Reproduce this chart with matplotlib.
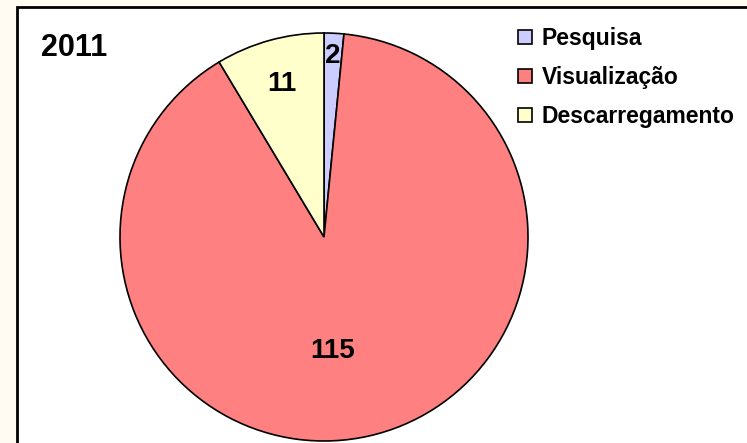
import matplotlib
matplotlib.use("Agg")
import matplotlib.pyplot as plt
from matplotlib.patches import Patch, Rectangle
import numpy as np

plt.rcParams['font.family'] = ['Liberation Sans', 'DejaVu Sans']
plt.rcParams['font.weight'] = 'bold'

year = "2011"
categories = ["Pesquisa", "Visualização", "Descarregamento"]
values = [2, 115, 11]
colors = ["#CCCCFF", "#FF8080", "#FFFFCC"]
# label placement inside each slice: radial distance and angle shift (deg)
label_dist = [0.89, 0.56, 0.78]
label_shift = [0, -8.5, 0]

W, H = 747, 443
fig = plt.figure(figsize=(W / 100, H / 100), dpi=100)
fig.patch.set_facecolor("#FFFBF2")

# white plot area with black frame (runs off the right / bottom edge)
fig.patches.append(Rectangle((17 / W, -0.05), 1.0, 1 - 7 / H + 0.05,
                             transform=fig.transFigure, facecolor="white",
                             edgecolor="black", linewidth=2, zorder=-1))

cx, cy, r = 324, 237, 204
ax = fig.add_axes([(cx - r) / W, (H - cy - r) / H, 2 * r / W, 2 * r / H])
ax.set_zorder(2)
wedges, _ = ax.pie(values, colors=colors, startangle=90, counterclock=False,
                   wedgeprops=dict(edgecolor="black", linewidth=1.2))
ax.set_xlim(-1, 1)
ax.set_ylim(-1, 1)
ax.set_aspect("equal")
ax.axis("off")

for w, v, d, s in zip(wedges, values, label_dist, label_shift):
    ang = np.deg2rad((w.theta1 + w.theta2) / 2 + s)
    ax.text(d * np.cos(ang), d * np.sin(ang), str(v), ha="center", va="center",
            fontsize=20, fontweight="bold")

fig.text(41 / W, 1 - 48 / H, year, ha="left", va="center", fontsize=22,
         fontweight="bold")

handles = [Patch(facecolor=c, edgecolor="black", linewidth=1.2) for c in colors]
leg = fig.legend(handles, categories, loc="upper left",
                 bbox_to_anchor=(518 / W, 1 - 27 / H), frameon=False,
                 handlelength=0.62, handleheight=0.62,
                 handletextpad=0.4, labelspacing=0.7, borderpad=0,
                 borderaxespad=0, prop=dict(weight="bold", size=16.5))
leg.set_zorder(3)

fig.savefig("out.png", dpi=100, facecolor=fig.get_facecolor())
